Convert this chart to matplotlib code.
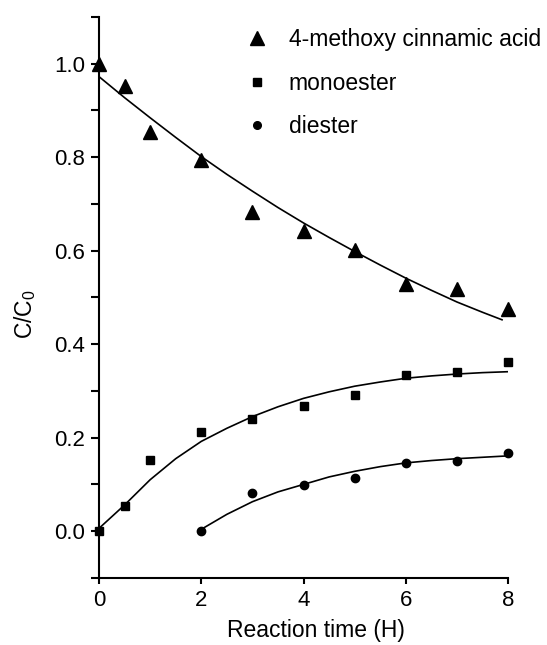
import numpy as np
import matplotlib
matplotlib.use('Agg')
import matplotlib.pyplot as plt
from matplotlib.lines import Line2D

plt.rcParams['font.family'] = ['Liberation Sans', 'DejaVu Sans']
plt.rcParams['mathtext.fontset'] = 'custom'
plt.rcParams['mathtext.rm'] = 'Liberation Sans'
plt.rcParams['mathtext.default'] = 'regular'

# measured points
t_acid = [0, 0.5, 1, 2, 3, 4, 5, 6, 7, 8]
acid = [1.0, 0.953, 0.854, 0.794, 0.682, 0.642, 0.601, 0.528, 0.517, 0.476]

t_mono = [0, 0.5, 1, 2, 3, 4, 5, 6, 7, 8]
mono = [0.0, 0.053, 0.152, 0.213, 0.240, 0.268, 0.291, 0.333, 0.340, 0.362]

t_di = [2, 3, 4, 5, 6, 7, 8]
di = [0.0, 0.082, 0.099, 0.114, 0.146, 0.149, 0.167]

# fitted curves
t_acid_fit = [0, 0.5, 1, 1.5, 2, 2.5, 3, 3.5, 4, 4.5, 5, 5.5, 6, 6.5, 7, 7.5, 7.88]
acid_fit = [0.972, 0.927, 0.884, 0.842, 0.801, 0.763, 0.727, 0.692, 0.659,
            0.628, 0.598, 0.569, 0.541, 0.515, 0.490, 0.468, 0.452]

t_mono_fit = [0, 0.5, 1, 1.5, 2, 2.5, 3, 3.5, 4, 4.5, 5, 5.5, 6, 6.5, 7, 7.5, 8]
mono_fit = [0.006, 0.056, 0.110, 0.155, 0.192, 0.220, 0.245, 0.266, 0.284,
            0.298, 0.310, 0.319, 0.327, 0.332, 0.336, 0.339, 0.341]

t_di_fit = [2, 2.5, 3, 3.5, 4, 4.5, 5, 5.5, 6, 6.5, 7, 7.5, 8]
di_fit = [0.004, 0.036, 0.063, 0.084, 0.100, 0.116, 0.128, 0.138, 0.146,
          0.151, 0.155, 0.158, 0.161]

labels = ['4-methoxy cinnamic acid', 'monoester', 'diester']
x_ticks = [0, 2, 4, 6, 8]
y_ticks = [0.0, 0.2, 0.4, 0.6, 0.8, 1.0]
y_ticklabels = ['0.0', '0.2', '0.4', '0.6', '0.8', '1.0']

fig = plt.figure(figsize=(5.47, 6.45), dpi=100)
ax = fig.add_axes([0.181, 0.104, 0.748, 0.870])

ax.plot(t_acid_fit, acid_fit, color='black', lw=1.2)
ax.plot(t_mono_fit, mono_fit, color='black', lw=1.2)
ax.plot(t_di_fit, di_fit, color='black', lw=1.2)

ax.plot(t_acid, acid, '^', color='black', ms=9.5, clip_on=False, zorder=3)
ax.plot(t_mono, mono, 's', color='black', ms=6, clip_on=False, zorder=3)
ax.plot(t_di, di, 'o', color='black', ms=6, clip_on=False, zorder=3)

ax.set_xlim(0, 8)
ax.set_ylim(-0.1, 1.1)
ax.set_xticks(x_ticks)
ax.set_yticks(y_ticks)
ax.set_yticklabels(y_ticklabels)
ax.set_yticks(np.arange(-0.1, 1.11, 0.1), minor=True)

for side in ['top', 'right']:
    ax.spines[side].set_visible(False)
for side in ['left', 'bottom']:
    ax.spines[side].set_linewidth(1.5)

ax.tick_params(axis='y', which='both', direction='out', length=6, width=1.5,
               labelsize=16, pad=4)
ax.tick_params(axis='x', which='both', direction='out', length=4, width=1.5,
               labelsize=16, pad=5)

ax.set_xlabel('Reaction time (H)', fontsize=16.5)
ax.xaxis.set_label_coords(0.53, -0.074)
ax.set_ylabel('C/C$_0$', fontsize=16.5)
ax.yaxis.set_label_coords(-0.15, 0.47)

handles = [
    Line2D([], [], marker='^', color='black', ls='none', ms=9.5),
    Line2D([], [], marker='s', color='black', ls='none', ms=5.5),
    Line2D([], [], marker='o', color='black', ls='none', ms=5.5),
]
fig.legend(handles, labels, loc='upper left', bbox_to_anchor=(0.448, 0.956),
           frameon=False, fontsize=16.5, handlelength=1.0, handletextpad=0.9,
           labelspacing=0.88, borderpad=0, borderaxespad=0)

fig.savefig('out.png', dpi=100)
